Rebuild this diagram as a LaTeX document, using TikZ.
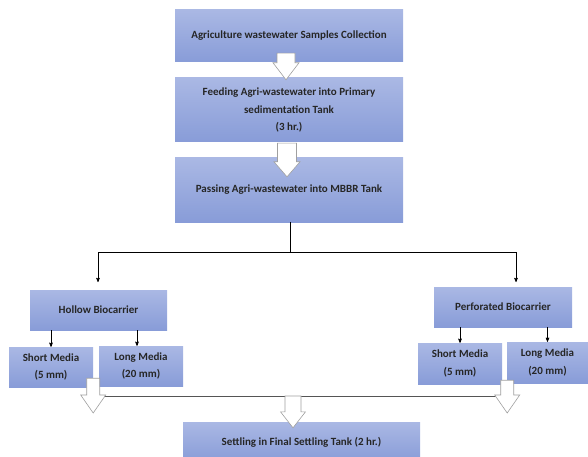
\documentclass[tikz,border=0pt]{standalone}
\usepackage{fontspec}
\setmainfont{Carlito}
\usepackage{tikz}
\usetikzlibrary{
        arrows,
        calc,
        positioning
    }
\definecolor{boxtop}{RGB}{170,184,228}
\definecolor{boxbot}{RGB}{136,156,216}
\definecolor{arrgray}{RGB}{160,160,160}
\definecolor{linegray}{RGB}{85,85,85}
\tikzset{>=stealth',shorten >=0pt,x=1pt,y=-1pt}
\tikzset{stage/.style={inner sep=0pt,align=center,top color=boxtop,bottom color=boxbot,
        text=black!85,font=\bfseries\fontsize{11}{17.5}\selectfont}}
\tikzset{blockarr/.style n args={3}{draw=arrgray,fill=white,line width=0.6pt,line join=miter,
        to path={let \p1=(\tikztostart), \p2=(\tikztotarget) in
            (\x1-#1pt,\y1) -- (\x1+#1pt,\y1) -- (\x1+#1pt,\y2+#3pt) -- (\x1+#2pt,\y2+#3pt)
            -- (\x1,\y2) -- (\x1-#2pt,\y2+#3pt) -- (\x1-#1pt,\y2+#3pt) -- cycle}}}

\begin{document}
\begin{tikzpicture}
                        \clip (0,0) rectangle (588,457);
                        \node[stage,minimum width=228pt,minimum height=52pt] (col) at (289,36)
                            {Agriculture wastewater Samples Collection};
                        \node[stage,minimum width=228pt,minimum height=64pt] (feed) at (289,110)
                            {Feeding Agri-wastewater into Primary\\sedimentation Tank\\(3 hr.)};
                        \node[stage,minimum width=228pt,minimum height=64pt] (mbbr) at (289,190)
                            {Passing Agri-wastewater into MBBR Tank};
                        \node[stage,minimum width=137pt,minimum height=40pt] (hollow) at (98.5,310)
                            {Hollow Biocarrier};
                        \node[stage,minimum width=138pt,minimum height=40pt] (perf) at (503,307)
                            {Perforated Biocarrier};
                        \node[stage,minimum width=84pt,minimum height=40pt] (hs) at (51,367)
                            {Short Media\\(5 mm)};
                        \node[stage,minimum width=84pt,minimum height=40pt] (hl) at (141,366)
                            {Long Media\\(20 mm)};
                        \node[stage,minimum width=84pt,minimum height=41pt] (ps) at (460,363.5)
                            {Short Media\\(5 mm)};
                        \node[stage,minimum width=81pt,minimum height=41pt] (pl) at (547.5,362.5)
                            {Long Media\\(20 mm)};
                        \node[stage,minimum width=237pt,minimum height=40pt] (settle) at (301.5,442)
                            {Settling in Final Settling Tank (2 hr.)};
                        \coordinate (split) at (290,252);
                        \coordinate (lt) at (98,282);
                        \coordinate (rt) at (516,282);
                        \coordinate (hsout) at (93,413);
                        \coordinate (psout) at (507,413);
                        \coordinate (join) at (293,396);
                        \draw[line width=0.6pt] (mbbr.south -| split) -- (split);
                        \draw[->,line width=0.6pt] (split) -| (lt);
                        \draw[->,line width=0.6pt] (split) -| (rt);
                        \path[->,line width=0.6pt]
                            (hollow.south -| hs.north)  edge  (hs.north)
                            ([xshift=-4pt]hollow.south -| hl.north)  edge  ([xshift=-4pt]hl.north)
                            (perf.south -| ps.north)  edge  (ps.north)
                            (perf.south -| pl.north)  edge  (pl.north)
                        ;
                        \draw[linegray,line width=0.9pt] (hsout |- join) -- (psout |- join);
                        \draw[blockarr={9}{13}{17}] ([xshift=-3pt,yshift=9pt]col.south) to ([yshift=-2pt]feed.north);
                        \draw[blockarr={9.5}{13}{15}] ([xshift=-2pt,yshift=-1pt]feed.south) to ([yshift=-19pt]mbbr.north);
                        \draw[blockarr={6.5}{12.5}{18}] ([yshift=9pt]hs.south east) to (hsout);
                        \draw[blockarr={6.5}{12.5}{18}] ([xshift=5pt,yshift=4pt]ps.south east) to (psout);
                        \draw[blockarr={8}{12.5}{16}] (join) to ([yshift=-6pt]settle.north);
                    \end{tikzpicture}
\end{document}
